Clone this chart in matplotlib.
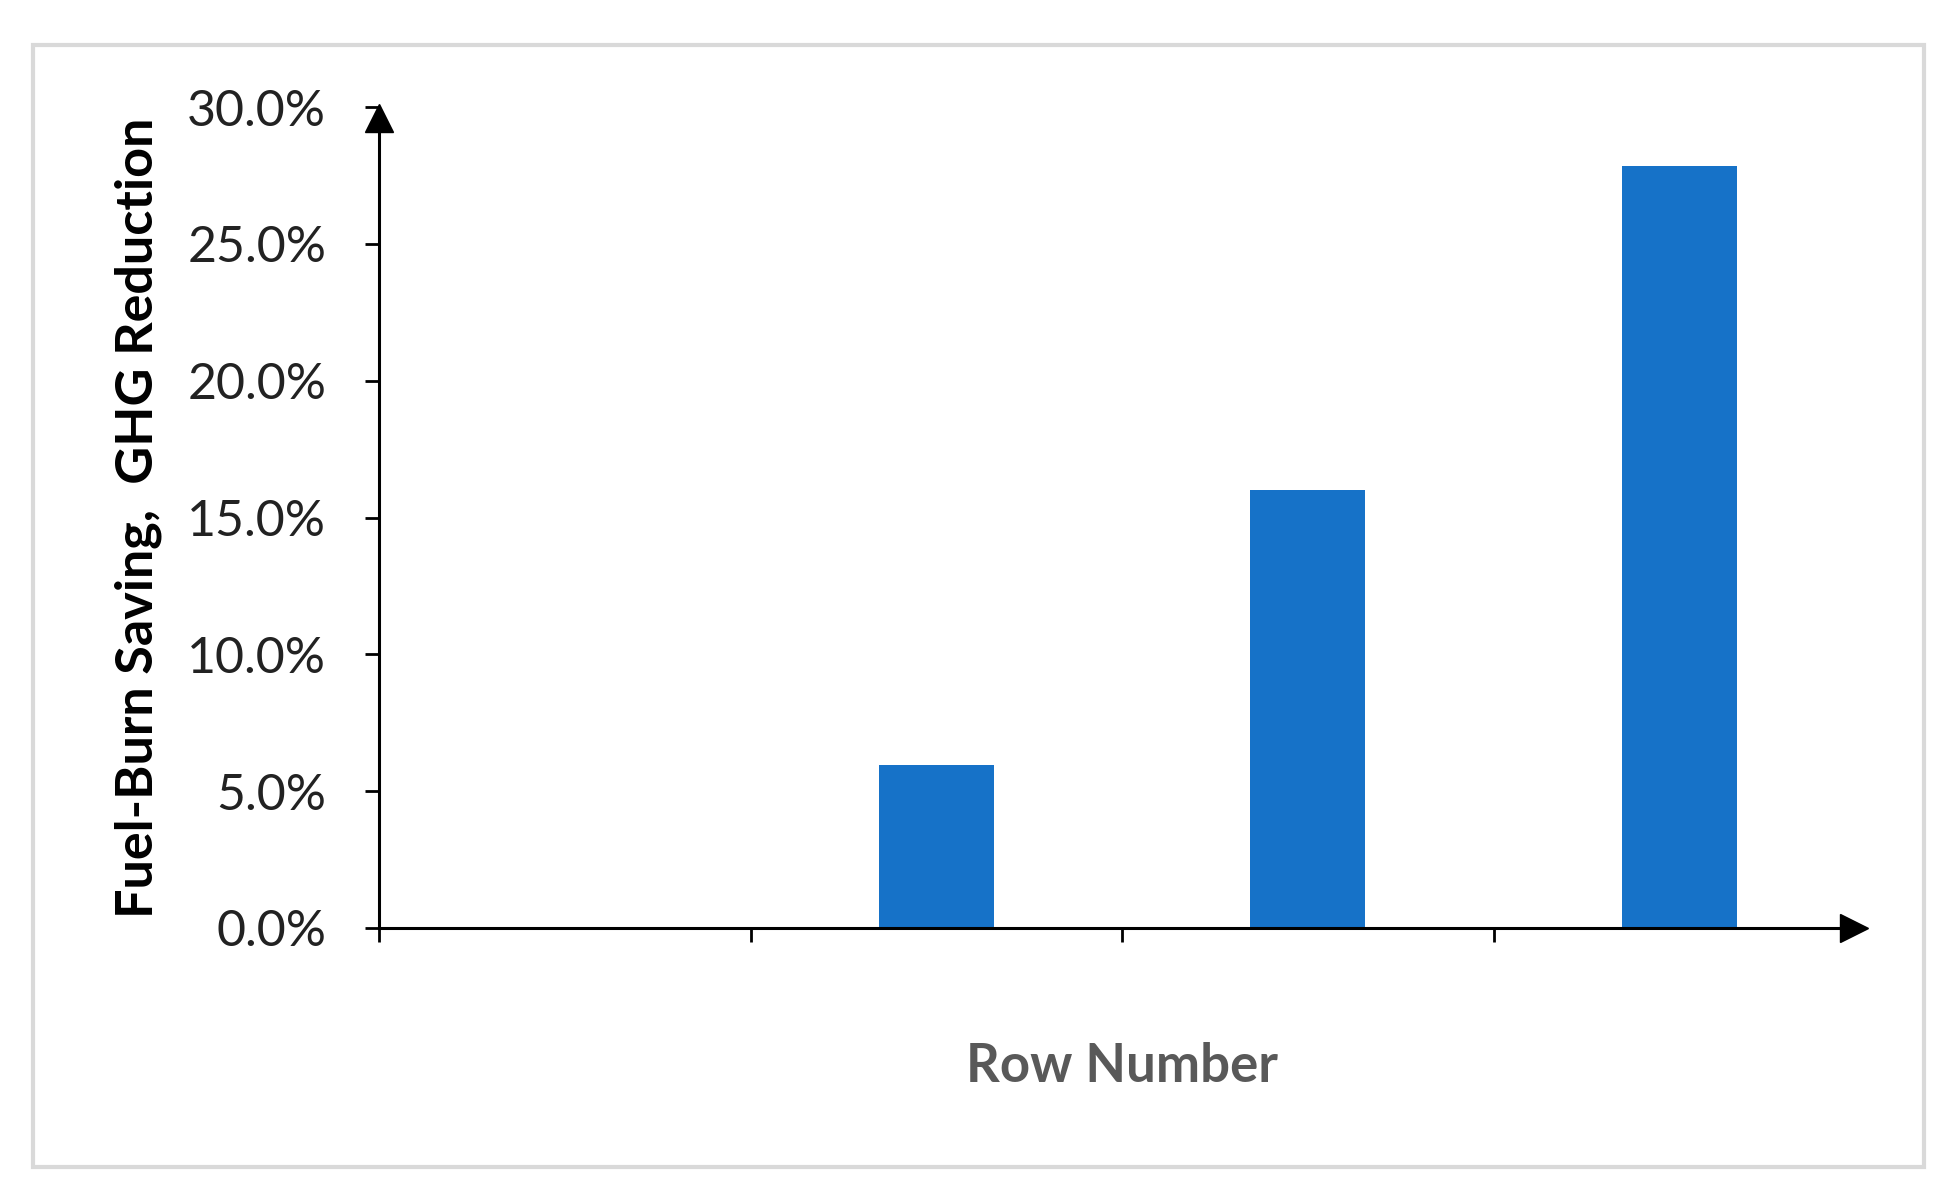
import matplotlib
matplotlib.use('Agg')
import matplotlib.pyplot as plt
from matplotlib.patches import Rectangle
from matplotlib.ticker import FuncFormatter
from matplotlib.transforms import offset_copy

# data
rows = [1, 2, 3, 4]
saving = [0.0, 5.95, 16.0, 27.85]  # percent
y_ticks = [0, 5, 10, 15, 20, 25, 30]

plt.rcParams['font.family'] = ['Lato', 'DejaVu Sans']

fig = plt.figure(figsize=(19.46, 12), dpi=100)
fig.patch.set_facecolor('white')

# light grey frame around the whole chart
fig.patches.append(Rectangle((33/1946, 1-1167/1200), (1924-33)/1946, (1167-45)/1200,
                             transform=fig.transFigure, fill=False,
                             edgecolor='#d9d9d9', linewidth=3))

ax = fig.add_axes([379/1946, 1-928/1200, (1865-379)/1946, (928-107)/1200])

pos = list(range(len(rows)))
ax.bar(pos, saving, width=0.31, color='#1672C8', zorder=2)

ax.set_xlim(-0.5, len(rows) - 0.5)
ax.set_ylim(0, 30)
ax.set_yticks(y_ticks)
ax.yaxis.set_major_formatter(FuncFormatter(lambda v, p: '%.1f%%' % v))
ax.set_xticks([p - 0.5 for p in pos])
ax.set_xticklabels([])

for s in ['top', 'right']:
    ax.spines[s].set_visible(False)
for s in ['left', 'bottom']:
    ax.spines[s].set_linewidth(2.2)
    ax.spines[s].set_zorder(3)

ax.tick_params(axis='y', direction='out', length=10, width=2, pad=28,
               labelsize=36, labelcolor='#222222')
ax.tick_params(axis='x', direction='out', length=10, width=2)

# arrow heads, tips sitting on the axis ends
tr_x = offset_copy(ax.transAxes, fig=fig, x=-8, y=0, units='points')
tr_y = offset_copy(ax.transAxes, fig=fig, x=0, y=-8, units='points')
ax.plot(1, 0, marker='>', color='black', markersize=20, transform=tr_x, clip_on=False, zorder=4)
ax.plot(0, 1, marker='^', color='black', markersize=20, transform=tr_y, clip_on=False, zorder=4)

ax.set_ylabel('Fuel-Burn Saving,  GHG Reduction', fontsize=37.5, fontweight='bold', color='black')
ax.yaxis.set_label_coords(-0.146, 0.5)
ax.set_xlabel('Row Number', fontsize=38, fontweight='bold', color='#595959')
ax.xaxis.set_label_coords(0.5, -0.169)
ax.xaxis.label.set_va('center')

fig.savefig('out.png', dpi=100, facecolor='white')
